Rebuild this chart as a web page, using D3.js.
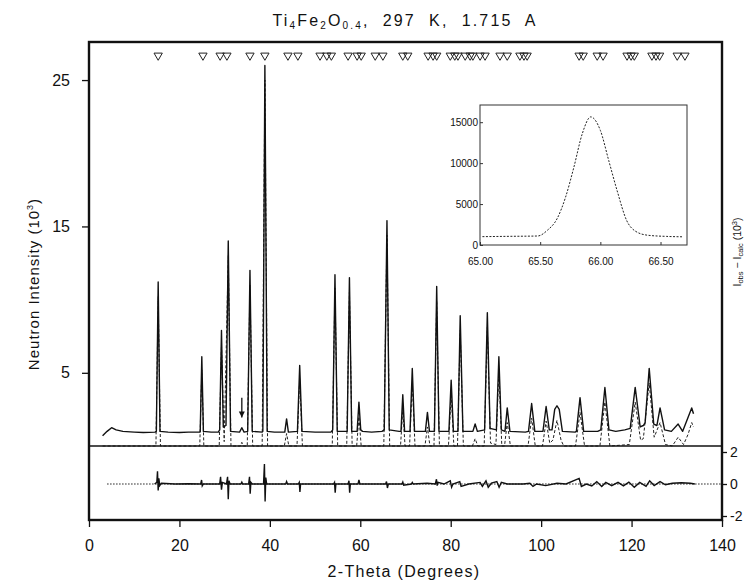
<!DOCTYPE html>
<html>
<head>
<meta charset="utf-8">
<script src="https://cdn.jsdelivr.net/npm/d3@7"></script>
<style>
body { margin: 0; background: #fff; }
svg text { font-family: "Liberation Sans", Arial, sans-serif; fill: #111; }
</style>
</head>
<body>
<script>
// reflection markers (2-theta, degrees)
const reflections = [15.3, 25.2, 29.0, 30.5, 35.6, 38.9, 44.0, 46.2, 51.1, 52.6, 53.6,
  57.3, 59.3, 60.2, 63.3, 65.0, 69.4, 70.5, 75.0, 76.1, 76.9, 79.9, 80.9, 81.6,
  83.2, 84.3, 84.9, 86.5, 87.6, 90.9, 92.5, 95.3, 96.2, 96.9, 108.4, 109.3,
  112.4, 113.7, 119.0, 119.9, 120.6, 124.5, 125.4, 126.2, 130.1, 131.8];

// observed profile [2theta, intensity (10^3)]
const obsProfile = [
  [3.0, 0.7], [4.0, 1.0], [5.0, 1.25], [6.0, 1.1], [7.5, 1.0], [10, 0.95], [12, 0.92], [14.6, 0.95],
  [14.9, 1.0], [15.3, 11.2], [15.7, 1.0], [17.5, 0.95], [20, 0.92], [22, 0.95], [24.5, 0.95],
  [24.6, 1.0], [24.95, 6.1], [25.3, 1.0], [27, 0.95], [28.6, 0.95],
  [28.9, 1.1], [29.3, 7.9], [29.7, 1.3], [30.3, 1.4], [30.8, 14.0], [31.3, 1.0],
  [33.3, 0.95], [33.8, 1.25], [34.3, 0.95],
  [35.1, 1.0], [35.6, 12.0], [36.1, 1.0], [38.3, 0.95],
  [38.45, 1.0], [38.9, 26.0], [39.4, 1.0], [41, 0.95], [43.3, 0.95], [43.7, 1.85], [44.1, 0.95],
  [46.1, 1.0], [46.6, 5.5], [47.1, 1.0], [50, 0.95], [53.5, 0.95],
  [53.9, 1.1], [54.4, 11.7], [54.9, 1.0], [57.1, 1.0], [57.6, 11.5], [58.1, 1.0],
  [59.3, 1.0], [59.7, 3.0], [60.1, 1.1], [60.5, 1.0], [62.5, 0.95], [64.8, 1.0],
  [65.3, 1.1], [65.9, 15.4], [66.4, 1.1], [68.6, 1.0],
  [69.0, 1.0], [69.4, 3.5], [69.8, 1.0], [71.0, 1.0], [71.5, 5.3], [72.0, 1.0],
  [74.4, 1.0], [74.85, 2.3], [75.3, 1.0], [76.4, 1.0], [76.9, 10.9], [77.4, 1.0],
  [79.6, 1.0], [80.1, 4.5], [80.6, 1.0], [81.6, 1.0], [82.1, 8.9], [82.7, 1.0],
  [84.9, 1.0], [85.4, 1.5], [85.9, 1.0], [87.5, 1.1], [88.1, 9.1], [88.7, 1.2],
  [90.1, 1.1], [90.65, 6.1], [91.2, 1.1], [92.0, 1.0], [92.5, 2.6], [93.1, 1.0], [96.5, 0.95],
  [97.2, 1.0], [97.9, 2.9], [98.6, 1.0], [100.4, 1.0], [101.1, 2.7], [101.8, 1.1],
  [102.4, 1.1], [103.0, 2.5], [103.5, 2.75], [104.0, 2.5], [104.7, 1.0], [107.5, 0.95],
  [107.8, 1.0], [108.6, 3.3], [109.4, 1.0], [112.5, 1.0],
  [113.2, 1.1], [114.1, 4.0], [115.0, 1.1], [116.5, 1.0], [118.5, 1.1],
  [119.7, 1.2], [120.8, 4.0], [121.9, 1.3], [122.6, 1.4],
  [123.0, 1.6], [123.9, 5.3], [124.9, 1.5], [125.6, 1.4], [126.3, 2.6], [127.3, 1.1],
  [128.8, 1.0], [130.3, 1.5], [131.3, 1.0], [133.3, 2.6], [133.7, 2.2]
];

// calculated profile (dashed)
const calcProfile = [
  [3, 0], [14.8, 0], [15.3, 10.2], [15.8, 0], [24.5, 0], [24.95, 5.2], [25.4, 0],
  [28.8, 0], [29.3, 6.9], [29.9, 0.3], [30.8, 13.0], [31.4, 0],
  [33.5, 0], [33.8, 0.25], [34.1, 0], [35.0, 0], [35.6, 11.0], [36.2, 0],
  [38.3, 0], [38.9, 25.0], [39.5, 0], [43.2, 0], [43.7, 0.85], [44.2, 0],
  [46.0, 0], [46.6, 4.6], [47.2, 0], [53.8, 0], [54.4, 10.8], [55.0, 0],
  [57.0, 0], [57.6, 10.5], [58.2, 0], [59.2, 0], [59.7, 2.0], [60.2, 0],
  [65.2, 0], [65.9, 14.4], [66.5, 0], [68.9, 0], [69.4, 2.5], [69.9, 0],
  [70.9, 0], [71.5, 4.3], [72.1, 0], [74.3, 0], [74.85, 1.3], [75.4, 0],
  [76.3, 0], [76.9, 9.9], [77.5, 0], [79.5, 0], [80.1, 3.5], [80.7, 0],
  [81.5, 0], [82.1, 7.9], [82.8, 0], [84.8, 0], [85.4, 0.5], [86.0, 0],
  [87.4, 0], [88.1, 8.1], [88.8, 0.2], [90.0, 0.1], [90.65, 5.1], [91.3, 0],
  [91.9, 0], [92.5, 1.6], [93.2, 0], [97.1, 0], [97.9, 1.9], [98.7, 0],
  [100.3, 0], [101.1, 1.7], [101.9, 0.2], [102.6, 0.4], [103.5, 1.75], [104.4, 0.4], [105, 0],
  [107.6, 0], [108.6, 2.3], [109.6, 0], [113.0, 0], [114.1, 3.0], [115.2, 0],
  [119.5, 0.1], [120.8, 3.0], [122.0, 0.4], [122.6, 0.5], [123.9, 4.3], [125.0, 0.6],
  [126.3, 1.6], [127.5, 0.1], [129, 0], [130.3, 0.6], [131.5, 0.1], [132.5, 0.8],
  [133.3, 1.6], [133.7, 1.3]
];

// difference curve Iobs - Icalc (10^3)
const diffProfile = [
  [14.5, 0], [15.0, 0.1], [15.15, 0.8], [15.3, -0.4], [15.45, 0.35], [15.65, -0.1], [16.0, 0.05],
  [19, 0], [22, 0.02], [24.7, 0], [24.9, 0.25], [25.05, -0.12], [25.3, 0],
  [28.9, 0], [29.1, 0.45], [29.3, -0.35], [29.5, 0.1], [30.4, 0], [30.65, 0.45], [30.8, -0.95],
  [30.95, 0.2], [31.2, 0], [33.6, 0], [33.8, 0.12], [34.0, 0], [35.3, 0], [35.5, 0.45],
  [35.65, -0.6], [35.8, 0.1], [36.1, 0], [38.6, 0], [38.8, 1.25], [38.95, -1.1], [39.1, 0.4],
  [39.3, 0], [43.5, 0], [43.7, 0.15], [43.9, 0], [46.3, 0], [46.5, 0.1], [46.65, -0.5],
  [46.8, 0], [54.1, 0], [54.3, 0.1], [54.45, -0.55], [54.6, 0], [57.3, 0], [57.5, 0.2],
  [57.65, -0.55], [57.8, 0], [59.5, 0], [59.7, 0.25], [59.9, 0], [65.6, 0], [65.8, 0.15],
  [66.0, -0.25], [66.2, 0], [69.2, 0], [69.4, 0.12], [69.6, -0.08], [71.3, 0], [71.5, 0.1],
  [71.7, 0], [74.8, 0.05], [76.6, 0], [76.85, 0.3], [77.0, -0.1], [77.2, 0.1], [78.5, 0],
  [79.9, 0.2], [80.2, -0.2], [80.5, 0], [82.0, 0.15], [82.3, -0.15], [84, 0], [86.5, 0.1],
  [87.0, -0.15], [87.8, 0.2], [88.3, -0.2], [89.0, 0.05], [90.2, 0.15], [90.7, -0.2],
  [91.2, 0.1], [92.5, 0], [96, 0], [97.5, 0.05], [98.2, -0.15], [99.0, 0], [101, -0.1],
  [103.5, 0.05], [105.5, 0], [108.4, 0.35], [108.9, -0.15], [110, 0], [111.2, -0.12],
  [112.3, 0.15], [113.4, -0.15], [114.3, 0.1], [115.6, -0.1], [117, 0.1], [118.2, -0.12],
  [119.4, 0.12], [120.6, -0.2], [121.8, 0.1], [123.2, -0.15], [124.0, 0.2], [125.0, -0.1],
  [126.3, 0.15], [127.5, -0.05], [129, 0.05], [131, 0.08], [133, 0.05], [134, 0]
];

// inset: single peak around 66 deg (counts)
const insetProfile = [
  [65.02, 1020], [65.25, 1060], [65.48, 1100], [65.56, 1800], [65.64, 3200], [65.71, 5800],
  [65.78, 9500], [65.85, 13600], [65.92, 15650], [66.00, 14000], [66.07, 10300],
  [66.14, 6600], [66.22, 2950], [66.29, 1700], [66.39, 1200], [66.55, 1050], [66.69, 1000]
];

const xTicks = [0, 20, 40, 60, 80, 100, 120, 140];
const yTicks = [5, 15, 25];
const diffTicks = [2, 0, -2];
const insetXTicks = [65.0, 65.5, 66.0, 66.5];
const insetYTicks = [0, 5000, 10000, 15000];
const arrowMark = {theta: 33.8, from: 3.3, to: 1.95};

const W = 744, H = 585;
const L = 89, R = 722, T = 42, SEP = 446, B = 520;

const svg = d3.select("body").append("svg")
  .attr("width", W).attr("height", H);

const x = d3.scaleLinear().domain([0, 140]).range([L, R]);
const y = d3.scaleLinear().domain([0, 27.6]).range([SEP, T]);
const yd = d3.scaleLinear().domain([-2.25, 2.375]).range([B, SEP]);

// title
const title = svg.append("text")
  .attr("x", 404).attr("y", 26)
  .attr("text-anchor", "middle")
  .attr("font-size", 16)
  .attr("textLength", 263).attr("lengthAdjust", "spacing")
  .style("white-space", "pre");
title.append("tspan").text("Ti");
title.append("tspan").attr("font-size", 10).attr("dy", 3).text("4");
title.append("tspan").attr("dy", -3).text("Fe");
title.append("tspan").attr("font-size", 10).attr("dy", 3).text("2");
title.append("tspan").attr("dy", -3).text("O");
title.append("tspan").attr("font-size", 10).attr("dy", 3).text("0.4");
title.append("tspan").attr("dy", -3).text(",  297  K,  1.715  A");

// profiles
const line = d3.line().x(d => x(d[0])).y(d => y(d[1]));
const dline = d3.line().x(d => x(d[0])).y(d => yd(d[1]));

svg.append("path").datum(calcProfile)
  .attr("d", line).attr("fill", "none")
  .attr("stroke", "#222").attr("stroke-width", 1)
  .attr("stroke-dasharray", "3,2");

svg.append("path").datum(obsProfile)
  .attr("d", line).attr("fill", "none")
  .attr("stroke", "#111").attr("stroke-width", 1.4)
  .attr("stroke-linejoin", "round");

// difference panel
svg.append("line")
  .attr("x1", x(4)).attr("x2", x(140))
  .attr("y1", yd(0)).attr("y2", yd(0))
  .attr("stroke", "#222").attr("stroke-width", 1.2)
  .attr("stroke-dasharray", "1.5,1.5");

svg.append("path").datum(diffProfile)
  .attr("d", dline).attr("fill", "none")
  .attr("stroke", "#111").attr("stroke-width", 1.4);

// reflection markers
svg.append("g").selectAll("path").data(reflections).join("path")
  .attr("d", d3.symbol().type(d3.symbolTriangle).size(30))
  .attr("transform", d => `translate(${x(d)},55.5) rotate(180)`)
  .attr("fill", "none").attr("stroke", "#222").attr("stroke-width", 1);

// arrow marker
const ax = x(arrowMark.theta);
svg.append("line")
  .attr("x1", ax).attr("x2", ax)
  .attr("y1", y(arrowMark.from)).attr("y2", y(arrowMark.to))
  .attr("stroke", "#111").attr("stroke-width", 1.3);
svg.append("path")
  .attr("d", `M${ax - 3},${y(arrowMark.to) - 6} L${ax + 3},${y(arrowMark.to) - 6} L${ax},${y(arrowMark.to)} Z`)
  .attr("fill", "#111");

// frame
svg.append("rect")
  .attr("x", L).attr("y", T).attr("width", R - L).attr("height", B - T)
  .attr("fill", "none").attr("stroke", "#111").attr("stroke-width", 2.4);
svg.append("line")
  .attr("x1", L).attr("x2", R).attr("y1", SEP).attr("y2", SEP)
  .attr("stroke", "#111").attr("stroke-width", 1.6);

// axes
const xAxis = svg.append("g")
  .attr("transform", `translate(0,${B})`)
  .call(d3.axisBottom(x).tickValues(xTicks).tickSize(7).tickPadding(13));
const yAxis = svg.append("g")
  .attr("transform", `translate(${L},0)`)
  .call(d3.axisLeft(y).tickValues(yTicks).tickSize(7).tickPadding(12));
const dAxis = svg.append("g")
  .attr("transform", `translate(${R},0)`)
  .call(d3.axisRight(yd).tickValues(diffTicks).tickSize(5).tickPadding(3)
    .tickFormat(d => d < 0 ? "-" + Math.abs(d) : String(d)));

[xAxis, yAxis, dAxis].forEach(g => {
  g.select(".domain").remove();
  g.selectAll("line").attr("stroke", "#111").attr("stroke-width", 1.3);
  g.selectAll("text").attr("font-size", 16).attr("font-family", null);
});
dAxis.selectAll("text").attr("font-size", 14);

// axis titles
svg.append("text")
  .attr("x", 404).attr("y", 577)
  .attr("text-anchor", "middle").attr("font-size", 16)
  .attr("letter-spacing", 1.3)
  .text("2-Theta (Degrees)");

const ylab = svg.append("text")
  .attr("transform", "translate(39,284) rotate(-90)")
  .attr("text-anchor", "middle").attr("font-size", 15)
  .attr("letter-spacing", 1);
ylab.append("tspan").text("Neutron Intensity (10");
ylab.append("tspan").attr("font-size", 9).attr("dy", -6).text("3");
ylab.append("tspan").attr("dy", 6).text(")");

const rlab = svg.append("text")
  .attr("transform", "translate(741,252) rotate(-90)")
  .attr("text-anchor", "middle").attr("font-size", 10.5);
rlab.append("tspan").text("I");
rlab.append("tspan").attr("font-size", 7.5).attr("dy", 2).text("obs");
rlab.append("tspan").attr("dy", -2).text(" \u2212 I");
rlab.append("tspan").attr("font-size", 7.5).attr("dy", 2).text("calc");
rlab.append("tspan").attr("dy", -2).text(" (10");
rlab.append("tspan").attr("font-size", 7.5).attr("dy", -4).text("3");
rlab.append("tspan").attr("dy", 4).text(")");

// inset
const xi = d3.scaleLinear().domain([65.0, 66.72]).range([480, 687]);
const yi = d3.scaleLinear().domain([0, 17100]).range([245, 105]);
const inset = svg.append("g");
inset.append("rect")
  .attr("x", 480).attr("y", 105).attr("width", 207).attr("height", 140)
  .attr("fill", "#fff").attr("stroke", "#333").attr("stroke-width", 1);
inset.append("path").datum(insetProfile)
  .attr("d", d3.line().x(d => xi(d[0])).y(d => yi(d[1])).curve(d3.curveMonotoneX))
  .attr("fill", "none").attr("stroke", "#222").attr("stroke-width", 1)
  .attr("stroke-dasharray", "2,1.5");
const ixAxis = inset.append("g").attr("transform", "translate(0,245)")
  .call(d3.axisBottom(xi).tickValues(insetXTicks).tickSize(-3).tickPadding(13)
    .tickFormat(d3.format(".2f")));
const iyAxis = inset.append("g").attr("transform", "translate(480,0)")
  .call(d3.axisLeft(yi).tickValues(insetYTicks).tickSize(-3).tickPadding(2)
    .tickFormat(d3.format("d")));
[ixAxis, iyAxis].forEach(g => {
  g.select(".domain").remove();
  g.selectAll("line").attr("stroke", "#333");
  g.selectAll("text").attr("font-size", 10).attr("font-family", null);
});
</script>
</body>
</html>
